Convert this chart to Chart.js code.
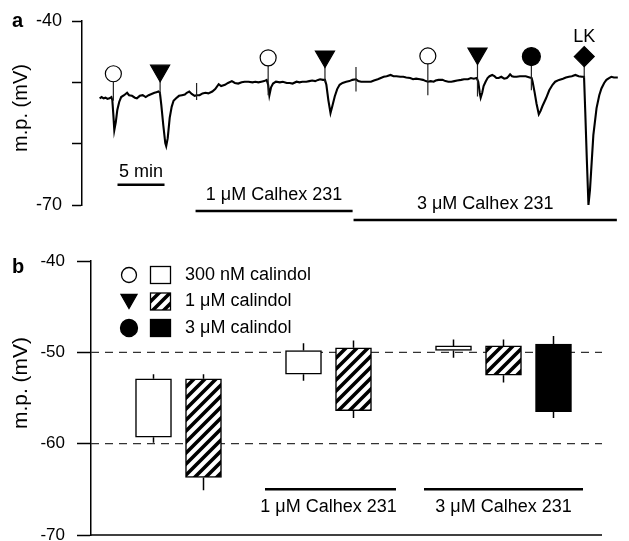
<!DOCTYPE html>
<html>
<head>
<meta charset="utf-8">
<script src="https://cdn.jsdelivr.net/npm/chart.js@4.4.1/dist/chart.umd.min.js"></script>
<style>
  html, body { margin: 0; padding: 0; background: #fff; }
  #wrap { position: relative; width: 629px; height: 541px; overflow: hidden; }
  canvas { position: absolute; left: 0; }
  #traceChart { top: 0; }
  #barChart { top: 232px; }
</style>
</head>
<body>
<div id="wrap">
  <canvas id="traceChart" width="629" height="232"></canvas>
  <canvas id="barChart" width="629" height="309"></canvas>
</div>
<script>
const FONT = '"Liberation Sans", Arial, Helvetica, sans-serif';
Chart.defaults.font.family = FONT;
Chart.defaults.color = '#000';

// ---- panel a: membrane potential trace (time in min, m.p. in mV) ----
const traceTime = [
  0, 0.21, 0.42, 0.63, 0.83, 1.04, 1.25, 1.35, 1.46, 1.56,
  1.72, 1.88, 2.08, 2.29, 2.60, 2.92, 3.13, 3.44, 3.75, 3.96,
  4.27, 4.58, 4.90, 5.21, 5.52, 5.83, 6.04, 6.25, 6.41, 6.56,
  6.77, 6.98, 7.08, 7.24, 7.45, 7.66, 7.86, 8.13, 8.44, 8.75,
  9.06, 9.27, 9.53, 9.79, 10.10, 10.31, 10.63, 10.94, 11.25, 11.56,
  11.98, 12.29, 12.66, 12.92, 13.33, 13.65, 14.06, 14.38, 14.74, 15.10,
  15.42, 15.83, 16.25, 16.56, 16.88, 17.19, 17.50, 17.76, 17.92, 18.05,
  18.23, 18.44, 18.75, 19.17, 19.48, 19.90, 20.21, 20.52, 20.94, 21.25,
  21.56, 21.98, 22.29, 22.60, 22.92, 23.23, 23.44, 23.75, 23.96, 24.11,
  24.32, 24.55, 24.74, 25.00, 25.26, 25.52, 25.83, 26.22, 26.56, 26.88,
  27.26, 27.50, 27.81, 28.13, 28.44, 28.85, 29.17, 29.58, 29.90, 30.21,
  30.52, 30.94, 31.25, 31.56, 31.98, 32.29, 32.60, 33.02, 33.33, 33.65,
  34.06, 34.38, 34.69, 34.90, 35.21, 35.52, 35.73, 36.04, 36.46, 36.77,
  37.08, 37.40, 37.71, 38.02, 38.44, 38.75, 39.17, 39.48, 39.79, 40.10,
  40.26, 40.42, 40.52, 40.68, 40.83, 41.04, 41.25, 41.46, 41.74, 41.98,
  42.19, 42.43, 42.71, 43.02, 43.30, 43.49, 43.65, 43.85, 44.06, 44.34,
  44.69, 45.03, 45.31, 45.73, 45.94, 46.04, 46.25, 46.46, 46.70, 46.88,
  47.08, 47.47, 47.81, 48.16, 48.44, 48.85, 49.27, 49.58, 49.90, 50.21,
  50.59, 50.94, 51.28, 51.51, 51.64, 51.80, 51.98, 52.14, 52.26, 52.50,
  52.84, 53.13, 53.36, 53.65, 53.89, 54.17, 54.41, 54.69, 55.10
];
const traceMp = [
  -52.6, -52.4, -52.6, -52.5, -52.7, -52.6, -52.4, -52.9, -55.3, -57.8,
  -56.5, -54.5, -53.2, -52.4, -52.1, -51.7, -52.1, -52.2, -52.5, -52.6,
  -52.2, -52.1, -52.4, -52.1, -51.9, -51.7, -51.6, -51.5, -51.7, -53.7,
  -57.0, -59.9, -60.4, -59.1, -55.8, -54.0, -53.0, -52.6, -52.2, -52.1,
  -52.0, -51.7, -51.5, -51.9, -52.2, -52.1, -52.1, -51.8, -51.7, -51.8,
  -51.5, -51.1, -50.3, -50.6, -50.4, -50.1, -49.8, -50.1, -50.2, -50.0,
  -49.9, -49.9, -50.0, -49.9, -50.0, -49.9, -49.8, -49.6, -50.4, -52.1,
  -50.8, -50.2, -49.9, -50.0, -49.9, -50.1, -50.1, -50.2, -49.9, -50.0,
  -49.9, -49.9, -49.8, -49.7, -49.8, -49.6, -49.5, -49.6, -49.6, -50.4,
  -52.9, -55.0, -53.9, -52.3, -51.1, -50.4, -50.1, -49.9, -49.8, -49.6,
  -49.5, -49.8, -49.9, -49.9, -49.9, -49.9, -49.7, -49.5, -49.3, -49.1,
  -49.0, -48.8, -49.0, -49.0, -49.1, -49.1, -49.2, -49.3, -49.5, -49.4,
  -49.5, -49.6, -49.8, -49.9, -49.8, -49.9, -49.7, -49.6, -49.6, -49.8,
  -49.9, -49.9, -49.8, -49.7, -49.6, -49.5, -49.5, -49.3, -49.4, -49.3,
  -49.9, -51.7, -52.5, -51.7, -50.6, -49.9, -49.3, -49.0, -48.8, -49.0,
  -49.3, -49.3, -49.1, -49.4, -49.3, -49.0, -48.7, -49.0, -49.1, -49.1,
  -49.0, -49.0, -49.0, -49.2, -49.3, -49.9, -51.6, -53.5, -55.2, -54.7,
  -53.9, -52.6, -51.3, -50.4, -49.9, -49.6, -49.4, -49.2, -49.1, -49.0,
  -48.8, -49.0, -49.1, -49.1, -54.8, -62.3, -70.0, -67.6, -64.6, -58.6,
  -54.2, -52.1, -51.0, -50.1, -49.6, -49.3, -49.1, -49.2, -49.2
];

// agonist applications shown above the trace
const markerTime = [1.46, 6.43, 17.92, 23.96, 34.90, 40.18, 45.91, 51.53];
const markerMp = [-48.6, -48.1, -46.0, -45.8, -45.7, -45.3, -45.8, -45.8];
const markerKind = ['300nM', '1uM', '300nM', '1uM', '300nM', '1uM', '3uM', 'LK'];

// vertical application artefacts
const stemTime = [1.46, 6.43, 10.31, 17.92, 23.96, 27.26, 34.90, 40.18, 45.91, 51.53];
const stemTop = [-48.6, -48.1, -50.1, -46.0, -45.8, -47.5, -45.7, -45.3, -45.8, -45.8];
const stemBottom = [-53.0, -52.0, -52.9, -52.1, -50.0, -51.5, -52.1, -52.3, -51.3, -49.3];

const drugNames = ['1 μM Calhex 231', '3 μM Calhex 231'];
const drugStart = [10.2, 27.0];
const drugEnd = [26.9, 55.0];

const scaleBarStart = 1.9;
const scaleBarMinutes = 5;

// ---- panel b: summary (mean ± s.e.m.) ----
const doseLabels = ['300 nM calindol', '1 μM calindol', '3 μM calindol'];
const conditionLabels = ['control', '1 μM Calhex 231', '3 μM Calhex 231'];
const barCondition = [0, 0, 1, 1, 2, 2, 2];
const barDose = [0, 1, 0, 1, 0, 1, 2];
const restMp = [-52.9, -52.9, -49.8, -49.5, -49.3, -49.3, -49.1];
const restSem = [0.5, 0.5, 0.8, 0.8, 0.7, 0.7, 0.9];
const peakMp = [-59.3, -63.7, -52.4, -56.4, -49.8, -52.5, -56.5];
const peakSem = [0.6, 1.4, 0.7, 0.8, 0.8, 0.8, 0.7];
const refLines = [-50, -60];

// hatch fill for the 1 uM bars
const hatch = (() => {
  const c = document.createElement('canvas');
  c.width = 11; c.height = 11;
  const g = c.getContext('2d');
  g.fillStyle = '#fff';
  g.fillRect(0, 0, 11, 11);
  g.strokeStyle = '#000';
  g.lineWidth = 3.6;
  g.beginPath();
  g.moveTo(-3, 14); g.lineTo(14, -3);
  g.moveTo(-3, 3); g.lineTo(3, -3);
  g.moveTo(8, 14); g.lineTo(14, 8);
  g.stroke();
  return g.createPattern(c, 'repeat');
})();
const doseFill = ['#fff', hatch, '#000'];

const markerLook = {
  '300nM': { style: 'circle', fill: '#fff', r: 8, rot: 0 },
  '1uM': { style: 'triangle', fill: '#000', r: 11, rot: 180 },
  '3uM': { style: 'circle', fill: '#000', r: 9, rot: 0 },
  'LK': { style: 'rectRot', fill: '#000', r: 10, rot: 0 }
};

const stemPoints = [];
stemTime.forEach((t, i) => {
  stemPoints.push({ x: t, y: stemTop[i] }, { x: t, y: stemBottom[i] }, { x: t, y: null });
});

const traceNotes = {
  id: 'traceNotes',
  afterDraw(chart) {
    const { ctx, chartArea, scales: { x, y } } = chart;
    ctx.save();
    ctx.fillStyle = '#000';
    ctx.strokeStyle = '#000';
    ctx.textAlign = 'center';
    ctx.textBaseline = 'middle';
    ctx.font = '18px ' + FONT;

    // time scale bar
    const sy = y.getPixelForValue(-66.7);
    const sx0 = x.getPixelForValue(scaleBarStart);
    const sx1 = x.getPixelForValue(scaleBarStart + scaleBarMinutes);
    ctx.lineWidth = 2.5;
    ctx.beginPath(); ctx.moveTo(sx0, sy); ctx.lineTo(sx1, sy); ctx.stroke();
    ctx.fillText(scaleBarMinutes + ' min', (sx0 + sx1) / 2, sy - 13);

    // Calhex application bars
    drugNames.forEach((name, i) => {
      const x0 = x.getPixelForValue(drugStart[i]);
      const x1 = x.getPixelForValue(drugEnd[i]);
      const ly = chartArea.bottom + 6 + 9 * i;
      ctx.beginPath(); ctx.moveTo(x0, ly); ctx.lineTo(x1, ly); ctx.stroke();
      ctx.fillText(name, (x0 + x1) / 2, ly - 16);
    });

    const lk = markerKind.indexOf('LK');
    ctx.fillText('LK', x.getPixelForValue(markerTime[lk]), y.getPixelForValue(markerMp[lk]) - 20);

    ctx.save();
    ctx.translate(21, (chartArea.top + chartArea.bottom) / 2 - 5);
    ctx.rotate(-Math.PI / 2);
    ctx.font = '20px ' + FONT;
    ctx.fillText('m.p. (mV)', 0, 0);
    ctx.restore();

    ctx.textAlign = 'left';
    ctx.textBaseline = 'alphabetic';
    ctx.font = 'bold 20px ' + FONT;
    ctx.fillText('a', 12, 27);
    ctx.restore();
  }
};

new Chart(document.getElementById('traceChart'), {
  type: 'line',
  data: {
    datasets: [
      {
        data: markerTime.map((t, i) => ({ x: t, y: markerMp[i] })),
        showLine: false,
        pointStyle: markerKind.map(k => markerLook[k].style),
        pointRadius: markerKind.map(k => markerLook[k].r),
        pointRotation: markerKind.map(k => markerLook[k].rot),
        pointBackgroundColor: markerKind.map(k => markerLook[k].fill),
        pointBorderColor: '#000',
        pointBorderWidth: 1.2,
        clip: false
      },
      {
        data: stemPoints,
        borderColor: '#222',
        borderWidth: 1.2,
        pointRadius: 0,
        spanGaps: false,
        clip: false
      },
      {
        data: traceTime.map((t, i) => ({ x: t, y: traceMp[i] })),
        borderColor: '#000',
        borderWidth: 2.1,
        pointRadius: 0,
        tension: 0,
        clip: false
      }
    ]
  },
  options: {
    responsive: false,
    animation: false,
    events: [],
    layout: { padding: { top: 21, bottom: 27, left: 0, right: 0 } },
    plugins: { legend: { display: false }, tooltip: { enabled: false } },
    scales: {
      x: { type: 'linear', display: false, min: -1.875, max: 55.1 },
      y: {
        min: -70,
        max: -40,
        afterFit: s => { s.width = 82; s.paddingTop = 0; s.paddingBottom = 0; },
        ticks: {
          stepSize: 10,
          padding: 10,
          font: { size: 18 },
          callback: v => (v === -40 || v === -70) ? v : ''
        },
        grid: { drawOnChartArea: false, tickLength: 10, tickWidth: 1.5, tickColor: '#000' },
        border: { color: '#000', width: 1.5 }
      }
    }
  },
  plugins: [traceNotes]
});

// ---- panel b ----
const barSlot = barCondition.map((c, i) => c * 3 + barDose[i]);
const treatPad = [null, [0.77, 0.85], [0.59, 0.59]];

const summaryNotes = {
  id: 'summaryNotes',
  beforeDatasetsDraw(chart) {
    const { ctx, chartArea, scales: { y } } = chart;
    ctx.save();
    ctx.strokeStyle = '#333';
    ctx.lineWidth = 1.3;
    ctx.setLineDash([8, 6]);
    refLines.forEach(v => {
      const py = y.getPixelForValue(v);
      ctx.beginPath(); ctx.moveTo(chartArea.left, py); ctx.lineTo(chartArea.right, py); ctx.stroke();
    });
    ctx.restore();
  },
  afterDatasetsDraw(chart) {
    const { ctx, scales: { x, y } } = chart;
    ctx.save();
    ctx.strokeStyle = '#000';
    ctx.lineWidth = 1.5;
    barSlot.forEach((s, i) => {
      const px = x.getPixelForValue(s);
      ctx.beginPath();
      ctx.moveTo(px, y.getPixelForValue(restMp[i]));
      ctx.lineTo(px, y.getPixelForValue(restMp[i] + restSem[i]));
      ctx.moveTo(px, y.getPixelForValue(peakMp[i]));
      ctx.lineTo(px, y.getPixelForValue(peakMp[i] - peakSem[i]));
      ctx.stroke();
    });
    ctx.restore();
  },
  afterDraw(chart) {
    const { ctx, chartArea, scales: { x, y } } = chart;
    ctx.save();
    ctx.strokeStyle = '#000';
    ctx.fillStyle = '#000';

    // x baseline
    ctx.lineWidth = 1.5;
    ctx.beginPath(); ctx.moveTo(chartArea.left, chartArea.bottom); ctx.lineTo(chartArea.right, chartArea.bottom); ctx.stroke();

    // Calhex condition bars
    ctx.font = '18px ' + FONT;
    ctx.textAlign = 'center';
    ctx.textBaseline = 'middle';
    ctx.lineWidth = 2.5;
    const ly = y.getPixelForValue(-65);
    conditionLabels.forEach((name, c) => {
      if (!treatPad[c]) return;
      const slots = barSlot.filter((s, i) => barCondition[i] === c);
      const x0 = x.getPixelForValue(Math.min(...slots) - treatPad[c][0]);
      const x1 = x.getPixelForValue(Math.max(...slots) + treatPad[c][1]);
      ctx.beginPath(); ctx.moveTo(x0, ly); ctx.lineTo(x1, ly); ctx.stroke();
      const xc = x.getPixelForValue((Math.min(...slots) + Math.max(...slots)) / 2);
      ctx.fillText(name, xc, ly + 18);
    });

    // legend
    ctx.textAlign = 'left';
    ctx.lineWidth = 1.3;
    doseLabels.forEach((label, d) => {
      const cy = 43 + 26.5 * d;
      ctx.beginPath();
      if (d === 1) {
        ctx.moveTo(121, cy - 7); ctx.lineTo(137, cy - 7); ctx.lineTo(129, cy + 7); ctx.closePath();
      } else {
        ctx.arc(129, cy, d === 0 ? 7.5 : 8.5, 0, Math.PI * 2);
      }
      ctx.fillStyle = d === 0 ? '#fff' : '#000';
      ctx.fill();
      ctx.stroke();
      ctx.fillStyle = doseFill[d];
      ctx.fillRect(150.5, cy - 8.5, 20, 17);
      ctx.strokeRect(150.5, cy - 8.5, 20, 17);
      ctx.fillStyle = '#000';
      ctx.fillText(label, 185, cy);
    });

    ctx.save();
    ctx.textAlign = 'center';
    ctx.translate(21, 151);
    ctx.rotate(-Math.PI / 2);
    ctx.font = '21px ' + FONT;
    ctx.fillText('m.p. (mV)', 0, 0);
    ctx.restore();

    ctx.textBaseline = 'alphabetic';
    ctx.font = 'bold 20px ' + FONT;
    ctx.fillText('b', 12, 41);
    ctx.restore();
  }
};

new Chart(document.getElementById('barChart'), {
  type: 'bar',
  data: {
    datasets: [{
      data: barSlot.map((s, i) => ({ x: s, y: [peakMp[i], restMp[i]] })),
      backgroundColor: barDose.map(d => doseFill[d]),
      borderColor: '#000',
      borderWidth: 1.5,
      borderSkipped: false,
      barThickness: 36
    }]
  },
  options: {
    responsive: false,
    animation: false,
    events: [],
    layout: { padding: { top: 29, bottom: 6, left: 0, right: 27 } },
    plugins: { legend: { display: false }, tooltip: { enabled: false } },
    scales: {
      x: { type: 'linear', display: false, offset: false, min: -1.25, max: 8.97 },
      y: {
        min: -70,
        max: -40,
        afterFit: s => { s.width = 91; s.paddingTop = 0; s.paddingBottom = 0; },
        ticks: { stepSize: 10, padding: 12, font: { size: 17 } },
        grid: { drawOnChartArea: false, tickLength: 14, tickWidth: 1.5, tickColor: '#000' },
        border: { color: '#000', width: 1.5 }
      }
    }
  },
  plugins: [summaryNotes]
});
</script>
</body>
</html>
